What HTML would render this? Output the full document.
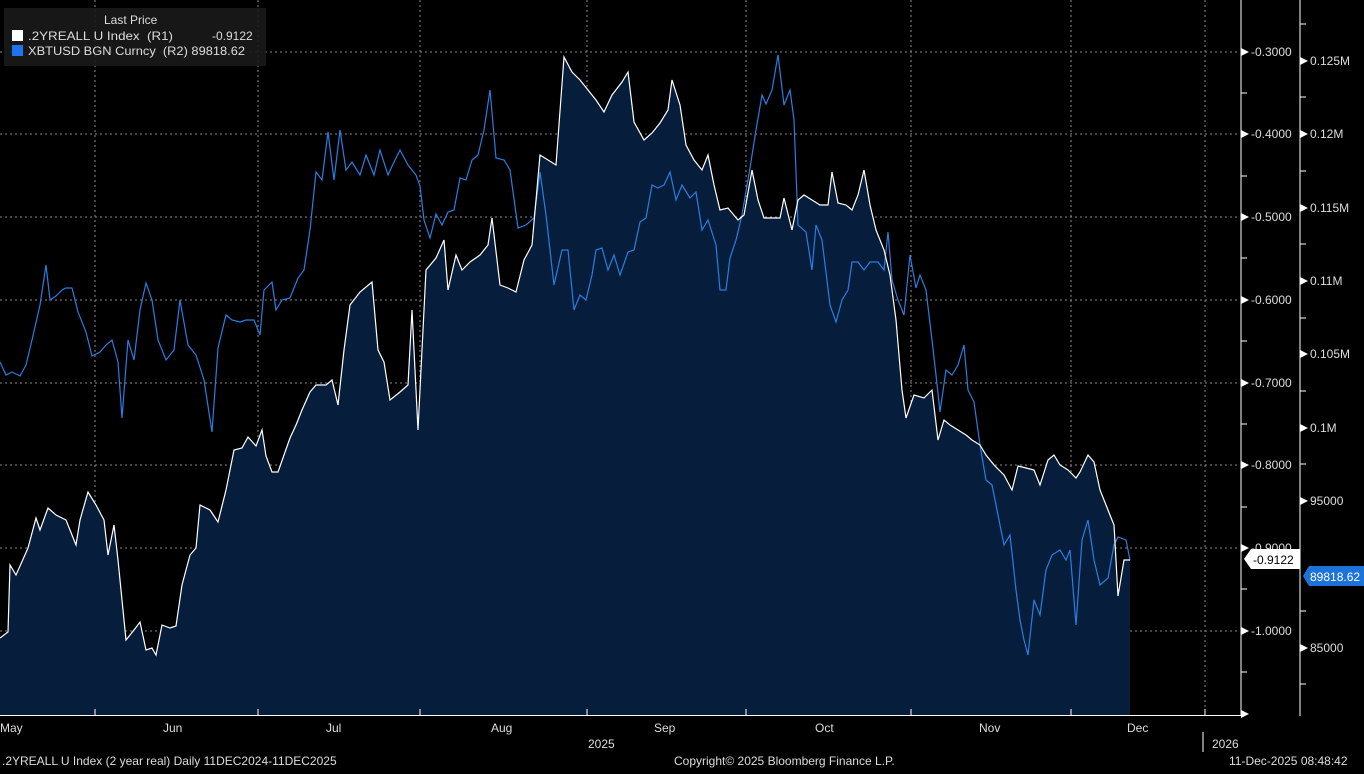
<!DOCTYPE html>
<html><head><meta charset="utf-8"><style>
body{margin:0;background:#000;width:1364px;height:769px;overflow:hidden;font-family:"Liberation Sans",sans-serif;}
svg text{font-family:"Liberation Sans",sans-serif;fill:#ddd;font-size:12px;white-space:pre;}
</style></head><body>
<svg width="1364" height="769" xmlns="http://www.w3.org/2000/svg">
<rect width="1364" height="769" fill="#000"/>
<g stroke="#888" stroke-dasharray="2,3" stroke-width="1">
<line x1="0" y1="52" x2="1240" y2="52"/><line x1="0" y1="134" x2="1240" y2="134"/><line x1="0" y1="217" x2="1240" y2="217"/><line x1="0" y1="300" x2="1240" y2="300"/><line x1="0" y1="383" x2="1240" y2="383"/><line x1="0" y1="465" x2="1240" y2="465"/><line x1="0" y1="548" x2="1240" y2="548"/><line x1="0" y1="631" x2="1240" y2="631"/>
<line x1="95" y1="0" x2="95" y2="715"/><line x1="258" y1="0" x2="258" y2="715"/><line x1="420" y1="0" x2="420" y2="715"/><line x1="587" y1="0" x2="587" y2="715"/><line x1="746" y1="0" x2="746" y2="715"/><line x1="911" y1="0" x2="911" y2="715"/><line x1="1071" y1="0" x2="1071" y2="715"/><line x1="1205" y1="0" x2="1205" y2="715"/>
</g>
<polygon fill="#061e3b" stroke="none" points="0,715 0,638 8,632 10,565 16,575 28,548 36,518 40,530 48,508 56,515 66,520 76,545 80,520 88,492 96,505 104,520 108,555 114,525 118,560 126,640 134,630 140,622 146,650 152,648 156,655 162,625 170,628 176,626 182,585 190,555 196,548 200,505 210,510 218,522 226,490 234,450 242,448 248,437 256,446 262,430 266,456 272,472 278,472 284,455 290,438 296,425 302,410 310,392 316,385 326,385 332,380 338,405 344,350 350,305 360,292 372,282 378,350 384,362 390,400 400,392 408,385 412,310 418,430 426,270 436,258 444,240 448,290 456,255 462,270 470,262 480,255 488,245 492,218 500,285 508,288 516,292 524,260 532,245 540,155 548,160 556,165 564,57 572,72 580,80 588,90 596,100 604,112 612,95 622,82 628,72 634,122 644,140 652,133 660,123 668,110 672,80 680,105 686,145 694,160 702,170 708,155 714,185 720,210 728,208 738,220 744,215 752,170 758,200 764,218 772,218 780,218 784,198 792,230 798,200 804,195 812,200 820,205 828,205 832,172 838,203 846,205 852,210 858,195 864,170 870,205 876,230 884,250 890,275 896,320 902,390 906,418 914,395 924,398 932,390 938,440 944,420 950,425 958,430 966,435 972,440 980,445 986,455 994,465 1004,475 1012,490 1018,466 1026,468 1034,470 1040,485 1048,460 1054,455 1060,465 1068,470 1076,478 1080,472 1088,455 1094,462 1100,490 1108,510 1114,525 1118,596 1124,560 1130,560 1130,715"/>
<polyline fill="none" stroke="#2a7de1" stroke-width="1.2" points="0,362 6,375 12,372 20,376 26,365 32,340 40,305 46,265 50,300 56,296 62,290 66,288 72,288 78,312 86,332 92,356 100,352 106,345 112,340 118,362 122,418 128,340 134,360 140,310 146,283 152,300 158,340 166,360 174,350 180,300 188,345 196,355 204,380 212,432 218,348 226,315 232,320 240,322 246,320 254,320 260,335 264,290 272,282 276,310 282,300 290,298 298,278 304,270 310,230 316,172 322,180 328,132 334,180 340,130 346,170 352,162 360,175 366,155 374,175 380,150 388,175 394,162 400,150 408,165 416,175 420,186 424,220 430,238 436,214 442,225 448,212 454,210 460,178 466,180 472,160 478,155 484,130 490,90 496,158 504,160 510,170 518,228 526,225 534,218 540,172 546,215 554,285 562,250 568,250 574,310 580,295 586,300 592,275 596,250 602,248 608,270 614,255 620,275 628,252 634,250 640,222 646,218 652,185 658,188 664,185 670,172 676,200 682,185 690,198 696,192 702,230 708,220 716,245 720,290 726,290 730,258 736,240 742,215 750,168 756,130 762,95 766,104 772,90 778,55 784,105 790,90 794,120 798,225 806,232 812,270 816,225 822,240 830,305 836,322 842,300 848,290 852,262 858,262 864,270 870,262 878,262 884,270 888,232 892,280 898,300 904,315 910,255 916,288 920,275 926,290 932,340 936,375 940,412 946,370 952,375 958,365 964,345 968,390 974,402 980,445 986,480 992,485 998,515 1004,545 1010,535 1016,590 1020,620 1024,640 1028,655 1034,600 1040,615 1046,570 1052,555 1060,550 1066,560 1070,550 1076,625 1082,540 1088,520 1094,560 1100,585 1108,578 1114,545 1118,537 1126,540 1130,560"/>
<polyline fill="none" stroke="#fff" stroke-width="1.2" points="0,638 8,632 10,565 16,575 28,548 36,518 40,530 48,508 56,515 66,520 76,545 80,520 88,492 96,505 104,520 108,555 114,525 118,560 126,640 134,630 140,622 146,650 152,648 156,655 162,625 170,628 176,626 182,585 190,555 196,548 200,505 210,510 218,522 226,490 234,450 242,448 248,437 256,446 262,430 266,456 272,472 278,472 284,455 290,438 296,425 302,410 310,392 316,385 326,385 332,380 338,405 344,350 350,305 360,292 372,282 378,350 384,362 390,400 400,392 408,385 412,310 418,430 426,270 436,258 444,240 448,290 456,255 462,270 470,262 480,255 488,245 492,218 500,285 508,288 516,292 524,260 532,245 540,155 548,160 556,165 564,57 572,72 580,80 588,90 596,100 604,112 612,95 622,82 628,72 634,122 644,140 652,133 660,123 668,110 672,80 680,105 686,145 694,160 702,170 708,155 714,185 720,210 728,208 738,220 744,215 752,170 758,200 764,218 772,218 780,218 784,198 792,230 798,200 804,195 812,200 820,205 828,205 832,172 838,203 846,205 852,210 858,195 864,170 870,205 876,230 884,250 890,275 896,320 902,390 906,418 914,395 924,398 932,390 938,440 944,420 950,425 958,430 966,435 972,440 980,445 986,455 994,465 1004,475 1012,490 1018,466 1026,468 1034,470 1040,485 1048,460 1054,455 1060,465 1068,470 1076,478 1080,472 1088,455 1094,462 1100,490 1108,510 1114,525 1118,596 1124,560 1130,560"/>
<g stroke="#fff" stroke-width="1">
<line x1="1241" y1="0" x2="1241" y2="716"/><line x1="1300" y1="0" x2="1300" y2="716"/>
<line x1="0" y1="715.5" x2="1241" y2="715.5"/>
<line x1="95" y1="709" x2="95" y2="715"/><line x1="258" y1="709" x2="258" y2="715"/><line x1="420" y1="709" x2="420" y2="715"/><line x1="587" y1="709" x2="587" y2="715"/><line x1="746" y1="709" x2="746" y2="715"/><line x1="911" y1="709" x2="911" y2="715"/><line x1="1071" y1="709" x2="1071" y2="715"/><line x1="1205" y1="709" x2="1205" y2="715"/>
<line x1="1203" y1="732" x2="1203" y2="752"/>
</g>
<g fill="#fff">
<polygon points="1241,48 1249,52 1241,56"/><polygon points="1241,130 1249,134 1241,138"/><polygon points="1241,213 1249,217 1241,221"/><polygon points="1241,296 1249,300 1241,304"/><polygon points="1241,379 1249,383 1241,387"/><polygon points="1241,461 1249,465 1241,469"/><polygon points="1241,544 1249,548 1241,552"/><polygon points="1241,627 1249,631 1241,635"/><polygon points="1241,710 1249,714 1241,718"/>
<polygon points="1300,57 1308,61 1300,65"/><polygon points="1300,130 1308,134 1300,138"/><polygon points="1300,204 1308,208 1300,212"/><polygon points="1300,277 1308,281 1300,285"/><polygon points="1300,350 1308,354 1300,358"/><polygon points="1300,424 1308,428 1300,432"/><polygon points="1300,497 1308,501 1300,505"/><polygon points="1300,644 1308,648 1300,652"/>
</g>
<g stroke="#fff"><line x1="1241" y1="93" x2="1247" y2="93"/><line x1="1241" y1="176" x2="1247" y2="176"/><line x1="1241" y1="258" x2="1247" y2="258"/><line x1="1241" y1="341" x2="1247" y2="341"/><line x1="1241" y1="424" x2="1247" y2="424"/><line x1="1241" y1="507" x2="1247" y2="507"/><line x1="1241" y1="589" x2="1247" y2="589"/><line x1="1241" y1="672" x2="1247" y2="672"/>
<line x1="1300" y1="24" x2="1306" y2="24"/><line x1="1300" y1="97" x2="1306" y2="97"/><line x1="1300" y1="171" x2="1306" y2="171"/><line x1="1300" y1="244" x2="1306" y2="244"/><line x1="1300" y1="318" x2="1306" y2="318"/><line x1="1300" y1="391" x2="1306" y2="391"/><line x1="1300" y1="464" x2="1306" y2="464"/><line x1="1300" y1="611" x2="1306" y2="611"/><line x1="1300" y1="684" x2="1306" y2="684"/></g>
<g>
<text x="1251" y="56">-0.3000</text><text x="1251" y="138">-0.4000</text><text x="1251" y="221">-0.5000</text><text x="1251" y="304">-0.6000</text><text x="1251" y="387">-0.7000</text><text x="1251" y="469">-0.8000</text><text x="1251" y="552">-0.9000</text><text x="1251" y="635">-1.0000</text>
<text x="1310" y="65">0.125M</text><text x="1310" y="138">0.12M</text><text x="1310" y="212">0.115M</text><text x="1310" y="285">0.11M</text><text x="1310" y="358">0.105M</text><text x="1310" y="432">0.1M</text><text x="1310" y="505">95000</text><text x="1310" y="652">85000</text>
</g>
<polygon fill="#fff" points="1244,559 1251,549 1300,549 1300,569 1251,569"/>
<text x="1253" y="564" style="fill:#000">-0.9122</text>
<polygon fill="#1e73d8" points="1303,576 1309,566 1364,566 1364,586 1309,586"/>
<text x="1310" y="581" style="fill:#fff">89818.62</text>
<g>
<text x="0" y="732">May</text><text x="163" y="732">Jun</text><text x="326" y="732">Jul</text><text x="491" y="732">Aug</text><text x="654" y="732">Sep</text><text x="815" y="732">Oct</text><text x="979" y="732">Nov</text><text x="1127" y="732">Dec</text>
<text x="588" y="748">2025</text><text x="1212" y="748">2026</text>
<text x="2" y="765" font-size="11">.2YREALL U Index (2 year real) Daily 11DEC2024-11DEC2025</text>
<text x="674" y="765" font-size="11">Copyright© 2025 Bloomberg Finance L.P.</text>
<text x="1229" y="765" font-size="11">11-Dec-2025 08:48:42</text>
</g>
<rect x="4" y="8" width="262" height="58" fill="#1a1a1a" opacity="0.9"/>
<text x="104" y="24" font-size="12.5">Last Price</text>
<rect x="12" y="30" width="11" height="11" fill="#fff"/>
<text x="28" y="40" textLength="145" lengthAdjust="spacingAndGlyphs">.2YREALL U Index  (R1)</text><text x="212" y="40">-0.9122</text>
<rect x="12" y="45" width="11" height="11" fill="#1e73f0"/>
<text x="28" y="55" textLength="217" lengthAdjust="spacingAndGlyphs">XBTUSD BGN Curncy  (R2) 89818.62</text>
</svg>
</body></html>
